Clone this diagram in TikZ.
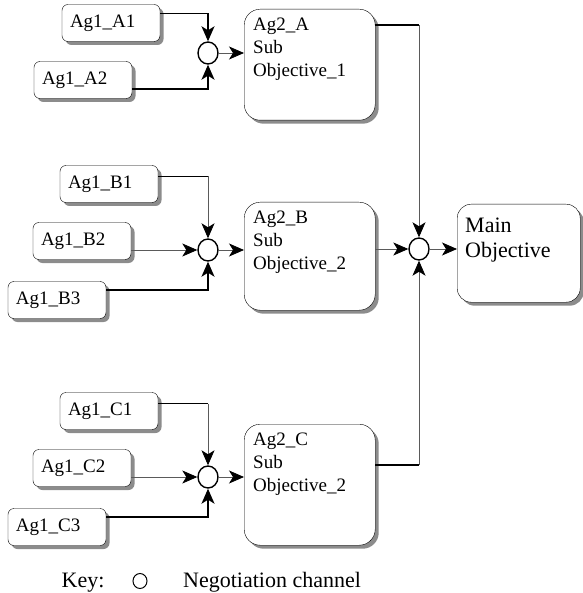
\documentclass[tikz,border=0pt]{standalone}
\usepackage{fontspec}
\setmainfont{Liberation Serif}
\usepackage{tikz}
\usetikzlibrary{arrows.meta,positioning,shapes.geometric,shadows}
\definecolor{cshade}{HTML}{8C8C8C}
\definecolor{cline}{HTML}{5A5A5A}

\begin{document}
\begin{tikzpicture}[x=1pt,y=-1pt,every node/.style={font=\fontsize{19}{23}\selectfont},
  agent/.style={draw,fill=white,rounded corners=6pt,text width=82pt,align=left,inner xsep=8pt,minimum height=37pt,
    drop shadow={shadow xshift=3.5pt,shadow yshift=-3.5pt,fill=cshade,opacity=1}},
  subgoal/.style={agent,rounded corners=16pt,text width=113pt,inner xsep=9pt,inner ysep=8pt,text height=13pt,text depth=#1},
  subgoal/.default=82pt,
  chan/.style={draw,ellipse,line width=1.4pt,inner sep=0pt,minimum width=20pt,minimum height=22pt},
  heavy/.style={line width=1.6pt},
  light/.style={line width=0.8pt,cline},
  headed/.style={-{Stealth[length=15pt,width=13pt,inset=4pt,color=black]}}]
  \useasboundingbox (0,0) rectangle (582,593);
  \node[chan] (chA) at (208,53) {};
  \node[agent] (A1) at (111,23) {Ag1\_A1};
  \node[agent] (A2) at (83,80) {Ag1\_A2};
  \node[subgoal=82pt,anchor=north west] (agA) at (244,9) {Ag2\_A\\Sub\\Objective\_1};
  \draw[heavy,headed] ([yshift=9.5pt]A1.east) -| (chA.north);
  \draw[heavy,headed] ([yshift=-9pt]A2.east) -| (chA.south);
  \draw[light,headed] (chA.east) -- (chA.east -| agA.west);
  \foreach \g/\cy/\top/\d in {B/250/202/79pt,C/477/424/92pt}{
    \node[chan] (ch\g) at (208,\cy) {};
    \node[agent] (\g1) at (109,\cy-66) {Ag1\_\g1};
    \node[agent] (\g2) at (82,\cy-9) {Ag1\_\g2};
    \node[agent] (\g3) at (57,\cy+50) {Ag1\_\g3};
    \node[subgoal=\d,anchor=north west] (ag\g) at (244,\top) {Ag2\_\g\\Sub\\Objective\_2};
    \draw[heavy] ([yshift=7.5pt]\g1.east) -- ([yshift=7.5pt]\g1.east -| ch\g) coordinate (\g1k);
    \draw[light,headed] (\g1k) -- (ch\g.north);
    \draw[light,headed] (\g2.east |- ch\g) -- (ch\g.west);
    \draw[heavy,headed] ([yshift=10pt]\g3.east) -| (ch\g.south);
    \draw[light,headed] (ch\g.east) -- (ch\g.east -| ag\g.west);
  }
  \node[chan] (chM) at (419,249) {};
  \node[subgoal=58pt,font=\fontsize{22}{25}\selectfont,rounded corners=14pt,text width=107pt,inner xsep=8pt,inner ysep=12pt,text height=16pt,anchor=north west] (main) at (457,204) {Main\\Objective};
  \draw[heavy] ([yshift=39.5pt]agA.east) -- ([yshift=39.5pt]agA.east -| chM) coordinate (agAk);
  \draw[light,headed] (agAk) -- (chM.north);
  \draw[light,headed] (agB.east |- chM) -- (chM.west);
  \draw[heavy] ([yshift=19.5pt]agC.east) -- ([yshift=19.5pt]agC.east -| chM) coordinate (agCk);
  \draw[light,headed] (agCk) -- (chM.south);
  \draw[light,headed] (chM.east) -- (chM.east -| main.west);
  \node[font=\fontsize{22}{26}\selectfont,inner sep=0pt,anchor=base] (key) at (83,587) {Key:};
  \node[chan,line width=1pt,minimum width=14pt,minimum height=15pt] (keych) at (140,581) {};
  \node[font=\fontsize{22}{26}\selectfont,inner sep=0pt,anchor=base west] (keytxt) at (183,587) {Negotiation channel};
\end{tikzpicture}
\end{document}
